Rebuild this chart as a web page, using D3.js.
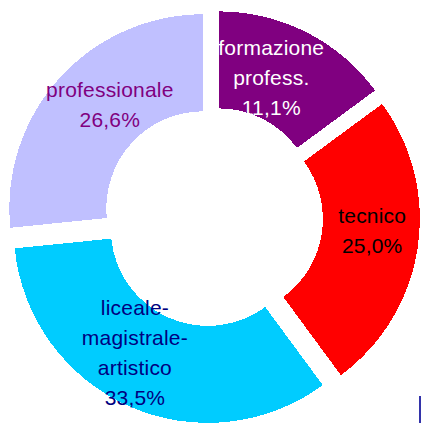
<!DOCTYPE html>
<html>
<head>
<meta charset="utf-8">
<script src="https://cdn.jsdelivr.net/npm/d3@7"></script>
<style>
  html, body { margin: 0; padding: 0; background: #ffffff; }
  svg { display: block; }
</style>
</head>
<body>
<div id="chart"></div>
<script>
// ---- data ----
const categories = ["formazione profess.", "tecnico", "liceale-magistrale-artistico", "professionale"];
// slice sizes as drawn (angular share of the ring)
const sliceShares = [14.9, 25.0, 33.5, 26.6];
// percentages printed on the labels
const labelPercents = ["11,1%", "25,0%", "33,5%", "26,6%"];
// label line breaks
const labelLines = [
  ["formazione", "profess."],
  ["tecnico"],
  ["liceale-", "magistrale-", "artistico"],
  ["professionale"]
];

// ---- styles / layout ----
const W = 421, H = 423;
const fillColors = ["#800080", "#FF0000", "#00CCFF", "#C0C0FF"];
const textColors = ["#ffffff", "#000000", "#000080", "#800080"];
const cx = 213, cy = 217, R = 194, r = 97, explode = 13;
const labelRadius = 145;
const labelNudge = [[-13, 1], [3, -11], [-14, -9], [14, -7]];
const lineH = 30;

const svg = d3.select("#chart").append("svg")
  .attr("width", W).attr("height", H);

const data = categories.map((c, i) => ({ name: c, share: sliceShares[i], i }));
const pie = d3.pie().sort(null).value(d => d.share).startAngle(0).endAngle(2 * Math.PI);
const arcs = pie(data);
const arc = d3.arc().innerRadius(r).outerRadius(R);

const g = svg.append("g").attr("transform", `translate(${cx},${cy})`);
const sliceLayer = g.append("g");
const labelLayer = g.append("g");

arcs.forEach(a => {
  const mid = (a.startAngle + a.endAngle) / 2;
  const ox = Math.sin(mid) * explode, oy = -Math.cos(mid) * explode;
  sliceLayer.append("path")
    .attr("transform", `translate(${ox},${oy})`)
    .attr("d", arc(a))
    .attr("fill", fillColors[a.data.i])
    .attr("shape-rendering", "crispEdges");

  const lx = ox + Math.sin(mid) * labelRadius + labelNudge[a.data.i][0];
  const ly = oy - Math.cos(mid) * labelRadius + labelNudge[a.data.i][1];
  const lines = labelLines[a.data.i].concat([labelPercents[a.data.i]]);
  const n = lines.length;
  const t = labelLayer.append("text")
    .attr("text-anchor", "middle")
    .attr("font-family", "'Liberation Sans', Arial, sans-serif")
    .attr("font-size", 21)
    .attr("letter-spacing", "0.2px")
    .attr("fill", textColors[a.data.i]);
  lines.forEach((s, k) => {
    t.append("tspan")
      .attr("x", lx)
      .attr("y", ly + (k - (n - 1) / 2) * lineH + 8)
      .text(s);
  });
});

// small legend-frame fragment at bottom right
svg.append("rect")
  .attr("x", 419).attr("y", 396).attr("width", 2).attr("height", H - 396)
  .attr("fill", "#3333aa");
</script>
</body>
</html>
